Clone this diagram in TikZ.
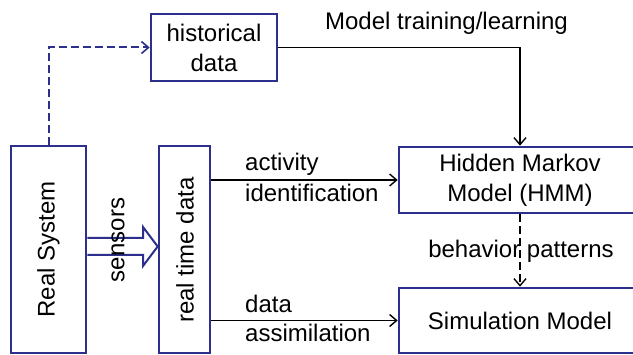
\documentclass[tikz,border=0pt]{standalone}
\usepackage{fontspec}
\setmainfont{Liberation Sans}
\usetikzlibrary{arrows.meta}
\definecolor{boxblue}{RGB}{44,47,140}
\tikzset{
  box/.style={draw=boxblue, line width=2.6pt, inner sep=0pt, align=center},
  lbl/.style={inner sep=0pt},
  conn/.style={draw=black, line width=1.4pt, -{Straight Barb[length=7pt,width=12pt,line width=1.4pt]}},
  feed/.style={draw=boxblue, line width=2pt, dash pattern=on 8pt off 4pt, -{Straight Barb[length=7pt,width=12pt,line width=1.6pt]}},
  pattern/.style={draw=black, line width=1.4pt, dash pattern=on 8pt off 4pt, -{Straight Barb[length=7pt,width=12pt,line width=1.4pt]}},
}
\begin{document}
\begin{tikzpicture}[x=1pt, y=-1pt, font=\fontsize{24}{30}\selectfont]
\clip (0,0) rectangle (633,355);
\fill[white] (0,0) rectangle (633,355);

% boxes
\node[box, minimum width=126pt, minimum height=67pt] (hist) at (214,47.5) {historical\\data};
\node[box, minimum width=75pt, minimum height=207pt] (real) at (48.5,249.5) {};
\node[box, minimum width=51pt, minimum height=207pt] (rtd) at (184.5,249.5) {};
\node[box, minimum width=242pt, minimum height=66pt] (hmm) at (520,180) {Hidden Markov\\Model (HMM)};
\node[box, minimum width=242pt, minimum height=65pt] (sim) at (520,320.5) {Simulation Model};

% rotated box captions
\node[lbl, rotate=90] (realtxt) at (real) {Real System};
\node[lbl, rotate=90] (rtdtxt) at (185,250) {real time data};

% hollow sensor arrow from the real system to the real time data
\draw[boxblue, line width=2pt, line join=miter]
  (real.east |- 0,238) -- (143,238) -- (143,227) -- (rtd.west |- 0,246.5)
  -- (143,266) -- (143,255) -- (real.east |- 0,255);
\node[lbl, rotate=90] (sens) at (118,240) {sensors};

% connectors
\draw[feed] (real.north) |- (hist.west);
\draw[conn] (hist.east) -| (hmm.north);
\draw[conn] (rtd.east |- hmm.west) -- (hmm.west);
\draw[conn] (rtd.east |- sim.west) -- (sim.west);
\draw[pattern] (hmm.south) -- (sim.north);

% connector labels
\node[lbl, anchor=base] (train) at (446.5,30) {Model training/learning};
\node[lbl, anchor=base west] (actA) at (245,171) {activity};
\node[lbl, anchor=base west] (actB) at (245,201.5) {identification};
\node[lbl, anchor=base west] (datA) at (245,312.5) {data};
\node[lbl, anchor=base west] (datB) at (245,342) {assimilation};
\node[lbl, anchor=base] (beh) at (521,258) {behavior patterns};
\end{tikzpicture}
\end{document}
